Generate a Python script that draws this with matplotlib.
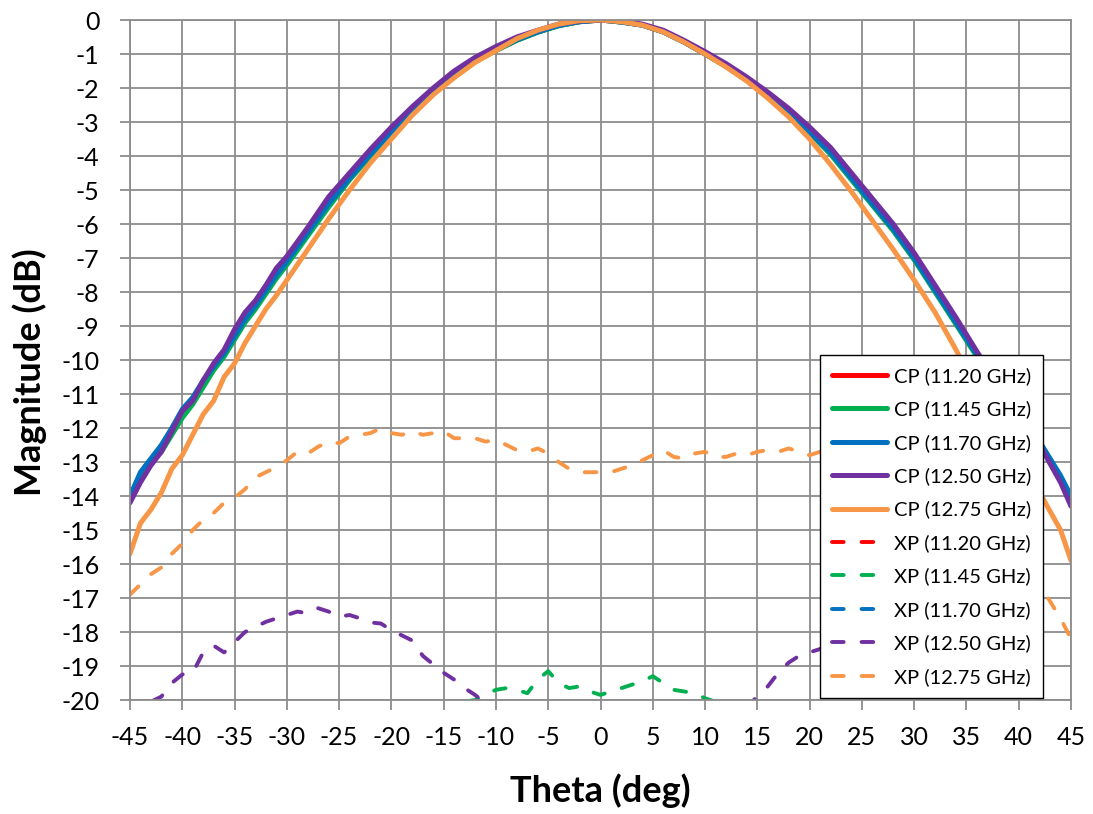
import matplotlib
matplotlib.use("Agg")
import matplotlib.pyplot as plt

plt.rcParams['font.family'] = ['Lato', 'DejaVu Sans']
plt.rcParams['axes.unicode_minus'] = False

# --- data ---
theta_cp = [-45, -44, -43, -42, -41, -40, -39, -38, -37, -36, -35, -34, -33, -32, -31,
            -30, -28, -26, -24, -22, -20, -18, -16, -14, -12, -10, -8, -6, -4, -2,
            0, 2, 4, 6, 8, 10, 12, 14, 16, 18, 20, 22, 24, 26, 28, 30, 32, 34, 36,
            38, 40, 42, 44, 45]

cp_1120 = [-14.05, -13.4, -12.95, -12.6, -12.1, -11.6, -11.2, -10.7, -10.25, -9.85, -9.35,
           -8.85, -8.45, -8.0, -7.55, -7.15, -6.3, -5.45, -4.68, -3.98, -3.32, -2.68, -2.12,
           -1.62, -1.21, -0.89, -0.59, -0.35, -0.16, -0.05, 0.0, -0.06, -0.15, -0.35, -0.65,
           -1.0, -1.35, -1.75, -2.21, -2.73, -3.31, -3.92, -4.67, -5.42, -6.17, -7.02, -7.97,
           -8.92, -9.87, -10.77, -11.65, -12.45, -13.45, -14.05]
cp_1145 = [-14.1, -13.5, -13.0, -12.7, -12.2, -11.7, -11.3, -10.8, -10.3, -9.9, -9.4,
           -8.9, -8.5, -8.05, -7.6, -7.2, -6.35, -5.5, -4.7, -4.0, -3.35, -2.7, -2.15,
           -1.65, -1.22, -0.9, -0.6, -0.36, -0.17, -0.05, 0.0, -0.06, -0.15, -0.35, -0.65,
           -1.0, -1.36, -1.77, -2.22, -2.75, -3.32, -3.95, -4.7, -5.45, -6.2, -7.05, -8.0,
           -8.95, -9.9, -10.8, -11.7, -12.5, -13.5, -14.1]
cp_1170 = [-14.0, -13.3, -12.9, -12.5, -12.0, -11.45, -11.1, -10.6, -10.2, -9.8, -9.3,
           -8.8, -8.4, -7.95, -7.5, -7.1, -6.25, -5.4, -4.65, -3.95, -3.3, -2.65, -2.1,
           -1.6, -1.2, -0.88, -0.58, -0.35, -0.16, -0.05, 0.0, -0.06, -0.15, -0.35, -0.65,
           -1.0, -1.35, -1.74, -2.2, -2.72, -3.3, -3.9, -4.65, -5.4, -6.15, -7.0, -7.95,
           -8.9, -9.85, -10.75, -11.6, -12.4, -13.4, -14.0]
cp_1250 = [-14.2, -13.6, -13.1, -12.7, -12.1, -11.5, -11.2, -10.6, -10.1, -9.7, -9.1,
           -8.6, -8.25, -7.8, -7.3, -6.95, -6.1, -5.2, -4.5, -3.8, -3.15, -2.55, -2.0,
           -1.5, -1.1, -0.78, -0.5, -0.3, -0.12, -0.03, 0.0, -0.03, -0.12, -0.3, -0.6,
           -0.93, -1.28, -1.68, -2.12, -2.6, -3.15, -3.75, -4.5, -5.25, -6.0, -6.85, -7.8,
           -8.75, -9.75, -10.7, -11.6, -12.5, -13.6, -14.3]
cp_1275 = [-15.7, -14.8, -14.4, -13.9, -13.2, -12.8, -12.2, -11.6, -11.2, -10.5, -10.1,
           -9.5, -9.0, -8.5, -8.1, -7.65, -6.75, -5.85, -5.0, -4.2, -3.5, -2.8, -2.2,
           -1.7, -1.25, -0.9, -0.55, -0.3, -0.12, -0.02, 0.0, -0.05, -0.15, -0.35, -0.65,
           -1.0, -1.38, -1.8, -2.3, -2.85, -3.5, -4.25, -5.05, -5.9, -6.75, -7.65, -8.6,
           -9.7, -10.9, -12.0, -13.0, -13.9, -15.0, -15.9]

theta_xp = list(range(-45, 46))

xp_1120 = [-24.5, -24.2, -24.0, -23.8, -23.6, -23.5, -23.3, -23.2, -23.1, -23.0,
           -22.9, -22.8, -22.7, -22.7, -22.6, -22.6, -22.5, -22.5, -22.4, -22.4,
           -22.4, -22.3, -22.3, -22.3, -22.2, -22.2, -22.2, -22.2, -22.2, -22.1,
           -22.1, -22.1, -22.1, -22.1, -22.1, -22.1, -22.1, -22.2, -22.2, -22.2,
           -22.3, -22.3, -22.4, -22.4, -22.5, -22.5, -22.5, -22.4, -22.4, -22.3,
           -22.3, -22.2, -22.2, -22.2, -22.1, -22.1, -22.1, -22.1, -22.1, -22.1,
           -22.1, -22.1, -22.2, -22.2, -22.2, -22.2, -22.2, -22.3, -22.3, -22.3,
           -22.4, -22.4, -22.4, -22.5, -22.5, -22.6, -22.6, -22.7, -22.7, -22.8,
           -22.9, -23.0, -23.1, -23.2, -23.3, -23.5, -23.6, -23.8, -24.0, -24.2, -24.5]
xp_1145 = [-23.5, -23.3, -23.1, -22.9, -22.8, -22.6, -22.5, -22.4, -22.3, -22.2,
           -22.1, -22.0, -21.9, -21.8, -21.7, -21.6, -21.5, -21.4, -21.3, -21.2,
           -21.1, -21.0, -20.9, -20.8, -20.7, -20.6, -20.5, -20.4, -20.3, -20.2,
           -20.3, -20.3, -20.05, -20.0, -19.85, -19.7, -19.65, -19.7, -19.8, -19.4,
           -19.15, -19.5, -19.65, -19.6, -19.75, -19.85, -19.75, -19.65, -19.55, -19.45,
           -19.3, -19.5, -19.7, -19.75, -19.8, -19.95, -20.05, -20.05, -20.05, -20.05,
           -20.1, -20.4, -20.7, -20.9, -21.1, -21.3, -21.4, -21.5, -21.6, -21.7,
           -21.8, -21.9, -22.0, -22.1, -22.2, -22.3, -22.4, -22.5, -22.6, -22.7,
           -22.8, -22.9, -23.0, -23.1, -23.2, -23.3, -23.4, -23.5, -23.6, -23.7, -23.8]
xp_1170 = [-25.0, -24.7, -24.4, -24.2, -24.0, -23.8, -23.6, -23.5, -23.4, -23.3,
           -23.2, -23.1, -23.0, -22.9, -22.9, -22.8, -22.8, -22.7, -22.7, -22.6,
           -22.6, -22.6, -22.5, -22.5, -22.5, -22.5, -22.4, -22.4, -22.4, -22.4,
           -22.4, -22.4, -22.4, -22.5, -22.5, -22.5, -22.6, -22.6, -22.7, -22.7,
           -22.8, -22.8, -22.9, -22.9, -23.0, -23.0, -23.0, -22.9, -22.9, -22.8,
           -22.8, -22.7, -22.7, -22.6, -22.6, -22.5, -22.5, -22.5, -22.4, -22.4,
           -22.4, -22.4, -22.4, -22.5, -22.5, -22.5, -22.5, -22.6, -22.6, -22.6,
           -22.7, -22.7, -22.8, -22.8, -22.9, -22.9, -23.0, -23.1, -23.2, -23.3,
           -23.4, -23.5, -23.6, -23.8, -24.0, -24.2, -24.4, -24.7, -25.0, -25.3, -25.6]
xp_1250 = [-20.6, -20.3, -20.05, -19.9, -19.5, -19.25, -19.2, -18.6, -18.4, -18.6,
           -18.3, -18.0, -17.85, -17.7, -17.6, -17.5, -17.4, -17.45, -17.3, -17.4,
           -17.55, -17.5, -17.6, -17.72, -17.75, -17.95, -18.1, -18.25, -18.7, -18.95,
           -19.2, -19.4, -19.65, -19.85, -20.1, -20.3, -20.5, -20.6, -20.7, -20.8,
           -20.9, -21.0, -21.0, -21.1, -21.1, -21.1, -21.1, -21.1, -21.0, -21.0,
           -20.9, -20.9, -20.8, -20.8, -20.7, -20.7, -20.6, -20.5, -20.4, -20.2,
           -19.9, -19.6, -19.2, -18.9, -18.7, -18.6, -18.5, -18.4, -18.3, -18.2,
           -18.1, -18.0, -18.0, -18.0, -18.05, -18.1, -18.2, -18.3, -18.4, -18.55,
           -18.7, -18.85, -19.0, -19.2, -19.4, -19.6, -19.8, -20.0, -20.3, -20.6, -20.9]
xp_1275 = [-16.9, -16.6, -16.3, -16.1, -15.7, -15.4, -15.0, -14.7, -14.5, -14.2,
           -14.05, -13.8, -13.45, -13.3, -13.15, -12.95, -12.7, -12.75, -12.55, -12.4,
           -12.45, -12.25, -12.2, -12.15, -12.0, -12.15, -12.2, -12.1, -12.2, -12.15,
           -12.1, -12.3, -12.3, -12.3, -12.4, -12.35, -12.5, -12.65, -12.7, -12.6,
           -12.75, -13.0, -13.2, -13.3, -13.3, -13.3, -13.3, -13.2, -13.1, -12.95,
           -12.8, -12.65, -12.85, -12.9, -12.75, -12.7, -12.85, -12.85, -12.75, -12.8,
           -12.7, -12.65, -12.7, -12.6, -12.7, -12.8, -12.7, -12.6, -12.65, -12.7,
           -12.8, -12.9, -13.0, -13.1, -13.25, -13.4, -13.55, -13.7, -13.9, -14.1,
           -14.35, -14.6, -14.9, -15.2, -15.5, -15.85, -16.2, -16.6, -17.1, -17.6, -18.2]

freqs = ['11.20', '11.45', '11.70', '12.50', '12.75']
colors = ['#FF0000', '#00B050', '#0070C0', '#7030A0', '#F79646']
cp_data = [cp_1120, cp_1145, cp_1170, cp_1250, cp_1275]
xp_data = [xp_1120, xp_1145, xp_1170, xp_1250, xp_1275]

fig = plt.figure(figsize=(10.93, 8.14), dpi=100)
ax = fig.add_axes([130 / 1093, 1 - 700 / 814, 941 / 1093, 680 / 814])

for f, c, y in zip(freqs, colors, cp_data):
    ax.plot(theta_cp, y, color=c, lw=3.6, solid_capstyle='round',
            solid_joinstyle='round', label='CP (%s GHz)' % f)
for f, c, y in zip(freqs, colors, xp_data):
    ax.plot(theta_xp, y, color=c, lw=2.8, linestyle=(0, (3.0, 4.6)),
            dash_capstyle='round', dash_joinstyle='round', label='XP (%s GHz)' % f)

grid_col = '#8c8c8c'
ax.set_xlim(-45, 45)
ax.set_ylim(-20, 0)
ax.set_xticks(range(-45, 46, 5))
ax.set_yticks(range(-20, 1))
ax.grid(True, color=grid_col, lw=1.3)
ax.set_axisbelow(True)
for s in ax.spines.values():
    s.set_color(grid_col)
    s.set_linewidth(1.3)
ax.tick_params(axis='both', colors=grid_col, labelcolor='black', labelsize=18,
               length=7, width=1.3)
ax.tick_params(axis='y', pad=15)
ax.tick_params(axis='x', pad=12)

ax.set_xlabel('Theta (deg)', fontsize=26, fontweight='bold')
ax.set_ylabel('Magnitude (dB)', fontsize=26, fontweight='bold')
ax.xaxis.set_label_coords(0.5, -0.108)
ax.yaxis.set_label_coords(-0.088, 0.482)

leg = ax.legend(loc='upper left', bbox_to_anchor=(820 / 1093, 1 - 355 / 814),
                bbox_transform=fig.transFigure, borderaxespad=0, fontsize=14.5,
                handlelength=2.75, handletextpad=0.3, labelspacing=0.77,
                borderpad=0.6, fancybox=False, framealpha=1, edgecolor='black')
leg.get_frame().set_linewidth(1.0)

fig.savefig('out.png', dpi=100)
